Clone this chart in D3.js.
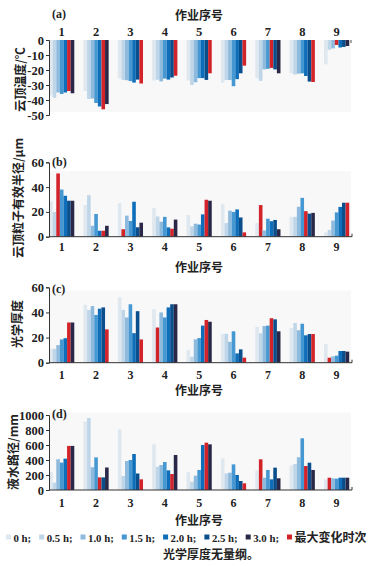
<!DOCTYPE html>
<html><head><meta charset="utf-8">
<script src="https://cdn.jsdelivr.net/npm/d3@7/dist/d3.min.js"></script>
<style>
body{margin:0;background:#fff;}
svg{display:block;}
.num{font-family:"Liberation Serif","Times New Roman",serif;font-weight:bold;font-size:12.5px;fill:#222;}
.cjk{font-family:"Noto Sans CJK SC",sans-serif;font-weight:bold;font-size:12px;fill:#222;}
</style></head>
<body>
<svg id="chart" width="372" height="566"></svg>
<script>
const categories = ["1","2","3","4","5","6","7","8","9"];
const seriesNames = ["0 h","0.5 h","1.0 h","1.5 h","2.0 h","2.5 h","3.0 h"];
const legendLast = "最大变化时次";
const seriesColors = ["#dfe8ef","#bfd5e8","#8dbadd","#4598d2","#0e6eb9","#0b4e8c","#2a2848"];
const redColor = "#d2232a";

// (a) cloud top temperature, per operation, 7 times
const cloudTopTemp = [
  [-37,-38.5,-35,-36,-35,-34,-35.5],
  [-34,-39.3,-39,-42,-44.3,-46.2,-42.7],
  [-25.6,-26.6,-26.8,-27.4,-28.4,-26.4,-29],
  [-27,-26.5,-27.6,-25.7,-26.4,-25,-23.8],
  [-27,-30,-28.2,-25.4,-25.4,-26.6,-22.2],
  [-28.5,-26.7,-26.7,-30.8,-26.1,-22.2,-17.1],
  [-25.6,-27.2,-19.6,-19.2,-18.6,-19.6,-22.2],
  [-22.2,-23,-22.4,-22.2,-24,-27.7,-28],
  [-16.2,-6.5,-5.6,-3.3,-5,-4.6,-4]
];
const cloudTopTempRed = [5,5,6,6,6,6,4,6,3];

// (b) effective radius
const effRadius = [
  [28.5,20,51,38,33,29,29],
  [25.5,33.5,8.8,18.3,4.8,4.8,8.8],
  [27,6,17,12.7,28.2,7.6,11.3],
  [23.2,16.3,12.1,16,7.5,6.4,13.8],
  [17.5,8.3,10.5,9.8,18,29.8,29],
  [26.3,11,21,20,22,15.5,3.5],
  [11,25.5,5,14.5,12.5,13.5,6],
  [16,16,24.2,31.3,20.6,18.6,19.2],
  [3.5,5.5,13,19.6,24,27.4,27.4]
];
const effRadiusRed = [2,5,1,5,5,6,1,4,6];

// (c) optical depth
const opticalDepth = [
  [11,11,14,18.5,19.5,32,32],
  [46,42,45,38,43,44,26.5],
  [52,42,36,46.5,23.5,41,18.5],
  [42.5,28,40,36,44,46.5,46.5],
  [10,4.7,18.6,19.6,29.5,34,32.6],
  [23,23,16.6,25,7.4,10.6,4],
  [28.6,23.4,29.2,29.5,35.4,34.5,25],
  [27.6,31.6,25.8,31,21.8,22.8,22.8],
  [15,4,5,5.6,9.3,9.3,8.8]
];
const opticalDepthRed = [5,6,6,1,5,6,4,6,1];

// (d) liquid water path
const liquidWater = [
  [242,98,410,365,418,588,588],
  [915,958,304,435,168,168,300],
  [810,187,387,400,480,220,142],
  [610,311,333,373,262,213,467],
  [236,111,191,267,600,631,609],
  [422,222,231,342,200,120,89],
  [258,409,164,267,142,298,156],
  [329,347,436,689,320,364,267],
  [142,164,156,151,164,164,164]
];
const liquidWaterRed = [5,4,6,5,5,6,1,4,1];

const tempTicks = [0,-10,-20,-30,-40,-50];
const radiusTicks = [0,20,40,60];
const depthTicks = [0,20,40,60];
const lwpTicks = [0,200,400,600,800,1000];

const svg = d3.select("#chart");
const x = d3.scaleBand().domain(categories).range([44.5,353.8]).padding(0);
const xi = d3.scaleBand().domain(d3.range(7)).range([-12.6,12.6]).padding(0);
const axL = 49, axR = 352;

const panels = [
  {key:"(a)", data:cloudTopTemp, red:cloudTopTempRed, domain:[-50,0], range:[115,40], ticks:tempTicks,
   bg:[40,112], ylabel:"云顶温度/℃", ylabelY:79.5, ylabelX:21, top:true, tickY:36, titleY:19.5, tagY:18},
  {key:"(b)", data:effRadius, red:effRadiusRed, domain:[0,60], range:[236.7,162.3], ticks:radiusTicks,
   bg:[171,236.7], ylabel:"云顶粒子有效半径/μm", ylabelY:198, ylabelX:19, top:false, tickY:250.5, titleY:272, tagY:166},
  {key:"(c)", data:opticalDepth, red:opticalDepthRed, domain:[0,60], range:[362.7,287.3], ticks:depthTicks,
   bg:[290.5,362.7], ylabel:"光学厚度", ylabelY:324, ylabelX:17.5, top:false, tickY:378.5, titleY:395, tagY:293},
  {key:"(d)", data:liquidWater, red:liquidWaterRed, domain:[0,1000], range:[490,415], ticks:lwpTicks,
   bg:[412.5,490], ylabel:"液水路径/mm", ylabelY:452, ylabelX:14, top:false, tickY:506.5, titleY:524.5, tagY:418}
];

panels.forEach(p => {
  const y = d3.scaleLinear().domain(p.domain).range(p.range);
  const g = svg.append("g");
  g.append("rect").attr("x",axL).attr("y",p.bg[0]).attr("width",axR-axL-1).attr("height",p.bg[1]-p.bg[0]).attr("fill","#f8f8f8");
  const base = y(0);
  categories.forEach((c,ci) => {
    const vals = p.data[ci];
    g.selectAll(null).data(vals).enter().append("rect")
      .attr("x",(d,i)=> x(c)+x.bandwidth()/2 + xi(i))
      .attr("width",xi.bandwidth())
      .attr("y",d=> Math.min(y(d),base))
      .attr("height",d=> Math.abs(y(d)-base))
      .attr("fill",(d,i)=> i===p.red[ci] ? redColor : seriesColors[i]);
  });
  const ya = d3.axisLeft(y).tickValues(p.ticks).tickSize(3).tickPadding(2).tickFormat(d=>String(d));
  const yg = g.append("g").attr("transform",`translate(${axL},0)`).call(ya);
  yg.select(".domain").attr("stroke","#333");
  yg.selectAll(".tick line").attr("stroke","#333");
  yg.selectAll("text").attr("class","num").style("font-size","12.5px");
  if (p.top) {
    const xa = d3.axisTop(x).tickSize(0).tickPadding(4);
    const xg = g.append("g").attr("transform",`translate(0,${base})`).call(xa);
    xg.select(".domain").remove();
    xg.selectAll("text").attr("class","num");
    g.append("line").attr("x1",axR-1).attr("x2",axR-1).attr("y1",base).attr("y2",base+3).attr("stroke","#555");
  } else {
    const xa = d3.axisBottom(x).tickSize(0).tickPadding(0);
    const xg = g.append("g").call(xa);
    xg.select(".domain").remove();
    xg.selectAll("text").attr("class","num").attr("dy",null).attr("y",p.tickY).style("font-size","12px");
    g.append("line").attr("x1",axL).attr("x2",axR).attr("y1",base).attr("y2",base).attr("stroke","#333");
    g.append("line").attr("x1",axR).attr("x2",axR).attr("y1",base).attr("y2",base-3).attr("stroke","#333");
  }
  g.append("text").attr("class","cjk").attr("x",199).attr("y",p.titleY).attr("text-anchor","middle").text("作业序号");
  g.append("text").attr("class","num").attr("x",52).attr("y",p.tagY).style("font-size","12px").text(p.key);
  g.append("text").attr("class","cjk")
    .attr("transform",`translate(${p.ylabelX+4},${p.ylabelY}) rotate(-90)`)
    .attr("text-anchor","middle").text(p.ylabel);
});

// legend
const legendItems = seriesNames.map((s,i)=>({label:s+";", color:seriesColors[i], cjk:false}))
  .concat([{label:legendLast, color:redColor, cjk:true}]);
const lg = svg.append("g");
let lx = 6;
legendItems.forEach(it => {
  lg.append("rect").attr("x",lx).attr("y",534.5).attr("width",5).attr("height",5).attr("fill",it.color);
  const t = lg.append("text").attr("class", it.cjk ? "cjk" : "num").attr("x",lx+7.5).attr("y",541.5)
    .style("font-size", it.cjk ? "12px" : "10.8px").text(it.label);
  lx = lx + 7.5 + t.node().getComputedTextLength() + 8;
});
svg.append("text").attr("class","cjk").attr("x",211).attr("y",558.5).attr("text-anchor","middle").text("光学厚度无量纲。");
</script>
</body></html>
